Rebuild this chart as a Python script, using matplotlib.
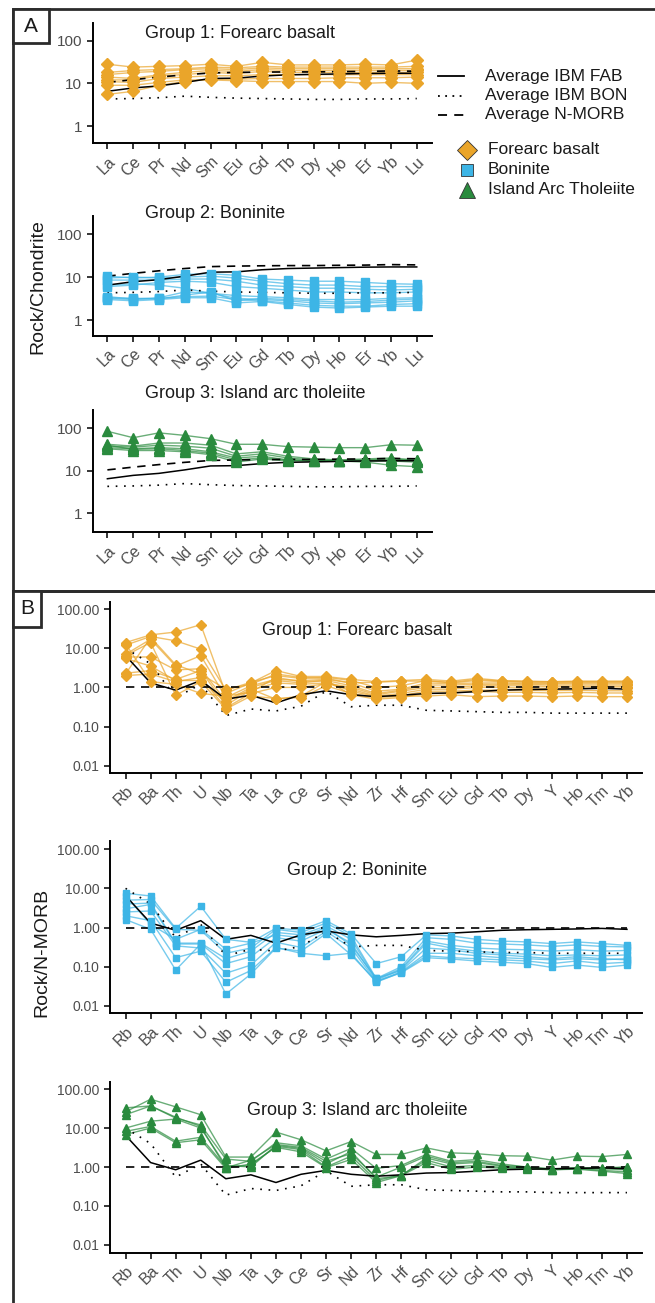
import matplotlib
matplotlib.use('Agg')
import matplotlib.pyplot as plt
from matplotlib.lines import Line2D
from matplotlib.patches import Rectangle
from matplotlib import font_manager
import numpy as np

# ---------------- data ----------------
ree = ['La', 'Ce', 'Pr', 'Nd', 'Sm', 'Eu', 'Gd', 'Tb', 'Dy', 'Ho', 'Er', 'Yb', 'Lu']
spider = ['Rb', 'Ba', 'Th', 'U', 'Nb', 'Ta', 'La', 'Ce', 'Sr', 'Nd', 'Zr', 'Hf',
          'Sm', 'Eu', 'Gd', 'Tb', 'Dy', 'Y', 'Ho', 'Tm', 'Yb']

# reference averages, chondrite normalised
ree_avg_fab = [6.5, 7.8, 8.7, 10.5, 13.0, 13.2, 14.8, 15.8, 16.2, 16.6, 17.0, 17.2, 17.2]
ree_avg_bon = [4.3, 4.4, 4.6, 5.0, 4.7, 4.5, 4.4, 4.3, 4.2, 4.2, 4.3, 4.3, 4.4]
ree_avg_morb = [10.5, 12.2, 14.0, 15.8, 17.5, 18.0, 18.3, 18.5, 18.5, 18.8, 19.0, 19.5, 19.2]

# reference averages, N-MORB normalised
sp_avg_fab = [6.5, 1.3, 0.85, 1.5, 0.5, 0.63, 0.4, 0.65, 0.82, 0.65, 0.58, 0.63,
              0.7, 0.72, 0.78, 0.85, 0.88, 0.9, 0.92, 0.95, 0.9]
sp_avg_bon = [10.0, 4.0, 0.55, 1.2, 0.19, 0.28, 0.25, 0.33, 0.8, 0.32, 0.35, 0.35,
              0.26, 0.25, 0.24, 0.23, 0.23, 0.22, 0.22, 0.22, 0.22]
sp_avg_morb = [1.0] * 21

# Group 1: forearc basalt, REE
fab_ree_1 = [28, 24, 25, 26, 28, 25, 31, 27, 27, 27, 28, 27, 35]
fab_ree_2 = [18, 20, 21, 22, 24, 23, 25, 24, 24, 24, 24, 24, 25]
fab_ree_3 = [16, 18, 19, 21, 22, 21, 23, 22, 22, 22, 22, 22, 22]
fab_ree_4 = [14, 13, 16, 18, 20, 19, 21, 20, 20, 20, 20, 20, 20]
fab_ree_5 = [12, 12, 15, 16, 18, 17, 19, 18, 18, 18, 18, 18, 18]
fab_ree_6 = [11, 10.5, 13, 14, 15, 15, 16, 16, 16, 16, 16, 16, 16]
fab_ree_7 = [5.5, 6.5, 9, 11, 12.5, 12.5, 13, 13, 13, 13.5, 13.5, 13.5, 14]
fab_ree_8 = [9, 9, 10.5, 12, 12, 11.5, 11, 11, 11, 11, 10, 10.5, 10]

# Group 2: boninite, REE
bon_ree_1 = [10.5, 9.5, 10, 11.5, 12, 11, 9, 8.5, 8, 8, 7.5, 7, 6.8]
bon_ree_2 = [9.5, 10, 9.5, 10, 10.5, 9.5, 8, 7, 6.5, 6.5, 6, 6, 6]
bon_ree_3 = [8.5, 8.5, 8.5, 9, 9, 8, 6.5, 6, 5.5, 5.5, 5.2, 5, 5.2]
bon_ree_4 = [6.0, 6.5, 7.5, 8, 7.6, 6, 5.5, 5, 4.5, 4.5, 4.3, 4.3, 4.5]
bon_ree_5 = [6.5, 7, 6.5, 5.5, 4.2, 3.7, 3.5, 3.3, 3.0, 3.0, 3.0, 3.2, 3.3]
bon_ree_6 = [3.5, 3.1, 3.3, 4.5, 4.2, 3.2, 3.0, 2.8, 2.5, 2.4, 2.5, 2.6, 2.8]
bon_ree_7 = [3.2, 3.0, 3.2, 3.5, 3.6, 3.0, 2.8, 2.5, 2.2, 2.1, 2.1, 2.3, 2.4]
bon_ree_8 = [3.0, 2.8, 3.0, 3.3, 3.3, 2.5, 2.7, 2.3, 2.0, 1.9, 2.0, 2.1, 2.1]
bon_ree_9 = [3.3, 3.2, 3.1, 3.8, 4.5, 2.8, 3.2, 3.0, 2.8, 2.6, 2.7, 2.9, 3.1]

# Group 3: island arc tholeiite, REE
iat_ree_1 = [85, 60, 78, 68, 57, 42, 42, 37, 36, 35, 35, 41, 40]
iat_ree_2 = [42, 38, 45, 45, 40, 25, 28, 22, 19, 18, 19, 20, 18]
iat_ree_3 = [38, 36, 40, 38, 34, 22, 25, 20, 18, 17.5, 18, 19, 17]
iat_ree_4 = [35, 33, 35, 33, 28, 20, 22, 18, 17.5, 17, 17, 17, 16]
iat_ree_5 = [33, 30, 30, 28, 24, 16, 19, 17, 17, 17, 16, 13.5, 12.5]
iat_ree_6 = [40, 32, 33, 30, 26, 18, 20, 18, 17, 17, 17.5, 18, 18]

# Group 1: forearc basalt, N-MORB normalised
fab_sp_1 = [14, 22, 26, 40, 0.7, 1.3, 2.7, 1.9, 1.9, 1.6, 1.4, 1.5, 1.6, 1.45, 1.7, 1.5, 1.45, 1.4, 1.45, 1.45, 1.45]
fab_sp_2 = [12, 20, 15.5, 9.5, 0.85, 1.35, 2.0, 1.7, 1.8, 1.5, 1.0, 1.1, 1.5, 1.3, 1.5, 1.4, 1.35, 1.3, 1.35, 1.35, 1.35]
fab_sp_3 = [7, 17, 3.5, 6.5, 0.55, 1.1, 1.6, 1.5, 1.6, 1.3, 0.8, 0.9, 1.3, 1.25, 1.3, 1.3, 1.25, 1.25, 1.25, 1.25, 1.25]
fab_sp_4 = [6, 6, 2.8, 3.0, 0.45, 1.0, 1.5, 1.3, 1.5, 1.1, 0.7, 0.85, 1.15, 1.15, 1.2, 1.2, 1.2, 1.15, 1.15, 1.15, 1.15]
fab_sp_5 = [2.3, 2.7, 1.6, 2.7, 0.35, 0.85, 1.3, 1.2, 1.3, 1.0, 0.65, 0.8, 1.0, 1.0, 1.1, 1.1, 1.1, 1.05, 1.05, 1.05, 1.05]
fab_sp_6 = [2.0, 2.2, 1.4, 1.8, 0.3, 0.7, 1.0, 1.0, 1.25, 0.9, 0.6, 0.7, 0.9, 0.9, 1.0, 1.0, 0.95, 0.95, 0.95, 0.95, 0.95]
fab_sp_7 = [6.5, 14, 0.63, 1.4, 0.28, 0.6, 0.52, 0.55, 1.1, 0.7, 0.55, 0.6, 0.6, 0.65, 0.58, 0.6, 0.6, 0.58, 0.6, 0.58, 0.58]
fab_sp_8 = [13, 1.4, 1.2, 0.7, 0.6, 0.75, 1.8, 1.4, 1.5, 0.65, 0.5, 0.55, 0.7, 0.72, 0.8, 0.75, 0.75, 0.72, 0.75, 0.72, 0.72]
fab_sp_9 = [2.2, 19, 3.8, 2.2, 0.9, 1.2, 2.2, 1.8, 1.7, 1.3, 1.35, 1.45, 1.45, 1.35, 1.6, 1.45, 1.4, 1.4, 1.4, 1.4, 1.4]
fab_sp_10 = [5.5, 3.5, 1.5, 1.5, 0.42, 0.9, 0.5, 0.6, 1.4, 0.8, 0.58, 0.62, 0.8, 0.8, 0.85, 0.85, 0.85, 0.82, 0.85, 0.82, 0.82]

# Group 2: boninite, N-MORB normalised
bon_sp_1 = [7.5, 6.4, 0.95, 3.5, 0.5, 0.42, 0.96, 0.86, 1.5, 0.68, 0.12, 0.18, 0.65, 0.61, 0.5, 0.45, 0.43, 0.39, 0.43, 0.39, 0.35]
bon_sp_2 = [5.0, 5.2, 0.9, 0.85, 0.22, 0.3, 0.9, 0.75, 1.3, 0.6, 0.05, 0.1, 0.55, 0.5, 0.4, 0.38, 0.36, 0.33, 0.36, 0.33, 0.32]
bon_sp_3 = [4.0, 4.2, 0.4, 0.4, 0.16, 0.25, 0.75, 0.65, 1.1, 0.5, 0.048, 0.09, 0.45, 0.35, 0.3, 0.28, 0.27, 0.25, 0.27, 0.25, 0.26]
bon_sp_4 = [3.0, 3.9, 0.38, 0.38, 0.12, 0.18, 0.55, 0.45, 0.9, 0.4, 0.045, 0.085, 0.4, 0.3, 0.25, 0.22, 0.21, 0.19, 0.2, 0.19, 0.2]
bon_sp_5 = [2.5, 2.65, 0.34, 0.3, 0.068, 0.11, 0.42, 0.31, 0.8, 0.3, 0.042, 0.075, 0.22, 0.22, 0.19, 0.17, 0.16, 0.15, 0.16, 0.15, 0.16]
bon_sp_6 = [2.0, 1.5, 0.17, 0.25, 0.04, 0.08, 0.31, 0.22, 0.19, 0.22, 0.04, 0.072, 0.19, 0.17, 0.16, 0.15, 0.14, 0.12, 0.14, 0.12, 0.13]
bon_sp_7 = [1.6, 0.9, 0.082, 0.38, 0.02, 0.065, 0.3, 0.25, 0.7, 0.2, 0.042, 0.07, 0.17, 0.157, 0.14, 0.13, 0.12, 0.096, 0.11, 0.096, 0.11]
bon_sp_8 = [6.5, 1.2, 0.5, 0.9, 0.28, 0.4, 0.65, 0.55, 1.0, 0.35, 0.05, 0.08, 0.3, 0.27, 0.22, 0.2, 0.18, 0.16, 0.18, 0.16, 0.15]

# Group 3: island arc tholeiite, N-MORB normalised
iat_sp_1 = [26, 55, 35, 22, 1.8, 1.8, 7.9, 5.0, 2.6, 4.5, 2.1, 2.1, 3.1, 2.3, 2.2, 1.95, 1.9, 1.5, 1.9, 1.85, 2.1]
iat_sp_2 = [33, 37, 18, 12, 1.6, 1.4, 4.2, 3.5, 1.6, 3.0, 0.92, 1.1, 2.1, 1.4, 1.55, 1.2, 1.0, 0.9, 0.95, 0.95, 1.0]
iat_sp_3 = [10, 15, 17, 10, 1.1, 1.0, 3.6, 3.0, 1.2, 2.5, 0.5, 0.6, 1.7, 1.2, 1.3, 1.05, 0.95, 0.88, 0.92, 0.9, 0.85]
iat_sp_4 = [8.2, 11, 4.6, 5.8, 1.0, 1.1, 3.4, 2.8, 1.0, 1.9, 0.45, 0.62, 1.5, 1.0, 1.1, 0.98, 0.93, 0.85, 0.9, 0.82, 0.75]
iat_sp_5 = [6.8, 10, 4.2, 5.0, 0.92, 1.2, 3.2, 2.45, 0.96, 1.57, 0.4, 0.6, 1.3, 0.87, 1.0, 0.93, 0.9, 0.85, 0.88, 0.78, 0.68]
iat_sp_6 = [22, 37, 19, 11, 0.95, 1.5, 3.8, 3.2, 1.4, 2.2, 0.55, 1.0, 1.9, 1.3, 1.4, 1.1, 1.0, 0.88, 0.95, 0.9, 1.0]

fab_ree = [fab_ree_1, fab_ree_2, fab_ree_3, fab_ree_4, fab_ree_5, fab_ree_6, fab_ree_7, fab_ree_8]
bon_ree = [bon_ree_1, bon_ree_2, bon_ree_3, bon_ree_4, bon_ree_5, bon_ree_6, bon_ree_7, bon_ree_8, bon_ree_9]
iat_ree = [iat_ree_1, iat_ree_2, iat_ree_3, iat_ree_4, iat_ree_5, iat_ree_6]
fab_sp = [fab_sp_1, fab_sp_2, fab_sp_3, fab_sp_4, fab_sp_5, fab_sp_6, fab_sp_7, fab_sp_8, fab_sp_9, fab_sp_10]
bon_sp = [bon_sp_1, bon_sp_2, bon_sp_3, bon_sp_4, bon_sp_5, bon_sp_6, bon_sp_7, bon_sp_8]
iat_sp = [iat_sp_1, iat_sp_2, iat_sp_3, iat_sp_4, iat_sp_5, iat_sp_6]

titles = ['Group 1: Forearc basalt', 'Group 2: Boninite', 'Group 3: Island arc tholeiite']
legend_lines = ['Average IBM FAB', 'Average IBM BON', 'Average N-MORB']
legend_types = ['Forearc basalt', 'Boninite', 'Island Arc Tholeiite']

# ---------------- style ----------------
ORANGE = '#EAA52A'
BLUE = '#3DB5E6'
GREEN = '#2A8B3E'
TICKC = '#4D4D4D'
TXT = '#1A1A1A'

names = {f.name for f in font_manager.fontManager.ttflist}
REG = 'Liberation Sans'
HAS_NARROW = 'Liberation Sans Narrow' in names
NARROW = 'Liberation Sans Narrow' if HAS_NARROW else 'Liberation Sans'
plt.rcParams['font.family'] = [REG, 'DejaVu Sans']

W, H = 655, 1303
DPI = 100
fig = plt.figure(figsize=(W / DPI, H / DPI), dpi=DPI)


def fx(x):
    return x / W


def fy(y):
    return 1 - y / H


def axes_px(left, top, right, bottom):
    return fig.add_axes([fx(left), fy(bottom), (right - left) / W, (bottom - top) / H])


def style_axes(ax):
    for s in ['top', 'right']:
        ax.spines[s].set_visible(False)
    for s in ['left', 'bottom']:
        ax.spines[s].set_linewidth(1.4)
        ax.spines[s].set_color('black')
    ax.tick_params(which='major', length=4, width=1.1, color='black', labelcolor=TICKC)
    ax.tick_params(which='minor', length=0)
    ax.set_facecolor('none')


def draw_group(ax, cats, samples, color, marker, ms, refs):
    x = np.arange(len(cats))
    for s in samples:
        ax.plot(x, s, color=color, lw=1.0, alpha=0.7, zorder=2)
    fab, bon, morb = refs
    ax.plot(x, fab, color='black', lw=1.1, zorder=3)
    ax.plot(x, bon, color='black', lw=1.2, ls=(0, (1, 4)), zorder=3)
    ax.plot(x, morb, color='black', lw=1.2, ls=(0, (5, 4)), zorder=3)
    for s in samples:
        ax.plot(x, s, ls='none', marker=marker, ms=ms, mfc=color, mec=color, zorder=4)
    ax.set_yscale('log')
    ax.set_xticks(x)


# ---------------- panel A ----------------
A_rows = [(22.7, 143.3, -0.405, 2.42, 145, 34),
          (216.5, 336.0, -0.372, 2.41, 145, 214),
          (410.0, 532.3, -0.447, 2.43, 145, 393)]
A_groups = [(fab_ree, ORANGE, 'D', 6.0), (bon_ree, BLUE, 's', 5.5), (iat_ree, GREEN, '^', 6.5)]
for (top, bot, lo, hi, tx, ty), (samps, col, mk, ms), title in zip(A_rows, A_groups, titles):
    ax = axes_px(92.7, top, 431.7, bot)
    draw_group(ax, ree, samps, col, mk, ms, (ree_avg_fab, ree_avg_bon, ree_avg_morb))
    ax.set_xlim(-0.57, 12.58)
    ax.set_ylim(10 ** lo, 10 ** hi)
    ax.set_yticks([1, 10, 100])
    ax.set_yticklabels(['1', '10', '100'], fontsize=11)
    ax.set_xticklabels(ree, rotation=45, ha='right', rotation_mode='anchor', fontsize=11.5)
    style_axes(ax)
    fig.text(fx(tx), fy(ty), title, ha='left', va='center', fontsize=13, color=TXT)

fig.text(fx(38), fy(287), 'Rock/Chondrite', rotation=90, ha='center', va='center',
         fontsize=14, color=TXT)

# legend (panel A)
leg_styles = ['-', (0, (1, 3)), (0, (5, 4))]
for i, (lab, ls) in enumerate(zip(legend_lines, leg_styles)):
    yy = 76 + i * 19.5
    fig.add_artist(Line2D([fx(438), fx(464)], [fy(yy), fy(yy)], transform=fig.transFigure,
                          color='black', lw=1.3, ls=ls))
    fig.text(fx(485), fy(yy), lab, ha='left', va='center', fontsize=12.5, color=TXT)

leg_marks = [('D', ORANGE, 10), ('s', BLUE, 9), ('^', GREEN, 12)]
for i, (lab, (mk, col, ms)) in enumerate(zip(legend_types, leg_marks)):
    yy = 150 + i * 20
    fig.add_artist(Line2D([fx(467)], [fy(yy)], transform=fig.transFigure, ls='none',
                          marker=mk, ms=ms, mfc=col, mec='#333333', mew=0.6))
    fig.text(fx(488), fy(yy), lab, ha='left', va='center', fontsize=12.5, color=TXT)

# ---------------- panel B ----------------
B_rows = [(601.7, 772.7, -2.18, 2.19),
          (841.0, 1013.3, -2.19, 2.21),
          (1081.7, 1252.7, -2.20, 2.19)]
B_groups = [(fab_sp, ORANGE, 'D', 5.0), (bon_sp, BLUE, 's', 4.5), (iat_sp, GREEN, '^', 5.5)]
title_fs = 14 if HAS_NARROW else 13
for (top, bot, lo, hi), (samps, col, mk, ms), title in zip(B_rows, B_groups, titles):
    ax = axes_px(110, top, 642, bot)
    draw_group(ax, spider, samps, col, mk, ms, (sp_avg_fab, sp_avg_bon, sp_avg_morb))
    ax.set_xlim(-0.62, 20.6)
    ax.set_ylim(10 ** lo, 10 ** hi)
    ax.set_yticks([0.01, 0.1, 1, 10, 100])
    ax.set_yticklabels(['0.01', '0.10', '1.00', '10.00', '100.00'], fontsize=10)
    ax.set_xticklabels(spider, rotation=45, ha='right', rotation_mode='anchor', fontsize=11.5,
                       family=[NARROW, REG])
    style_axes(ax)
    ax.text(0.465, 10 ** 1.45, title, transform=ax.get_yaxis_transform(),
            ha='center', va='center', fontsize=title_fs, color=TXT, family=[NARROW, REG])

fig.text(fx(42), fy(952), 'Rock/N-MORB', rotation=90, ha='center', va='center',
         fontsize=14, color=TXT)

# ---------------- frames ----------------
FR = '#2B2B2B'
fig.add_artist(Rectangle((fx(12.7), fy(591)), (680 - 12.7) / W, (591 - 9.3) / H,
                         transform=fig.transFigure, fill=False, ec=FR, lw=2.0))
fig.add_artist(Rectangle((fx(12.7), fy(1320)), (680 - 12.7) / W, (1320 - 591) / H,
                         transform=fig.transFigure, fill=False, ec=FR, lw=2.0))
fig.add_artist(Rectangle((fx(12.7), fy(43.3)), (49 - 12.7) / W, (43.3 - 9.3) / H,
                         transform=fig.transFigure, fill=True, fc='white', ec=FR, lw=2.0))
fig.text(fx(31), fy(27), 'A', ha='center', va='center', fontsize=15, color=TXT)
fig.add_artist(Rectangle((fx(12.7), fy(627)), (41 - 12.7) / W, (627 - 591) / H,
                         transform=fig.transFigure, fill=True, fc='white', ec=FR, lw=2.0))
fig.text(fx(27), fy(609), 'B', ha='center', va='center', fontsize=15, color=TXT)

fig.savefig('out.png', dpi=DPI)
